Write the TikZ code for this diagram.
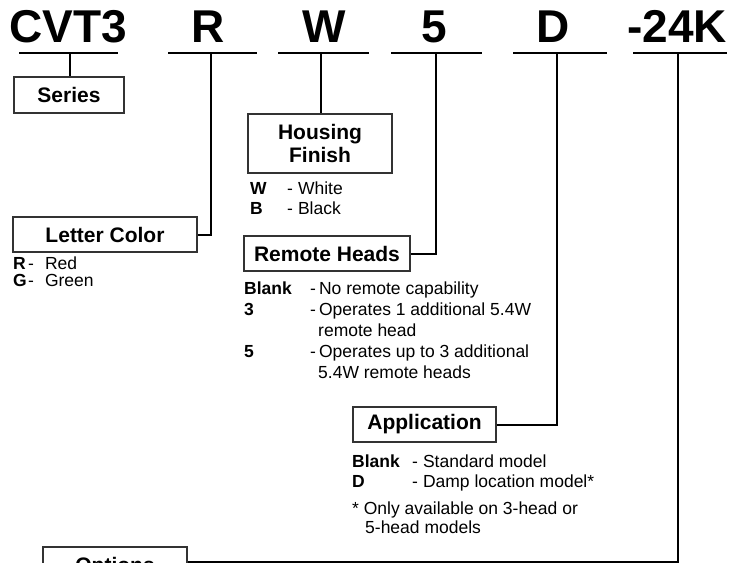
\documentclass[tikz,border=0pt]{standalone}
\usepackage{fontspec}
\setmainfont{Liberation Sans}

\begin{document}
\begin{tikzpicture}[x=1pt, y=-1pt,
  code/.style  = {font=\fontsize{46}{46}\selectfont\bfseries, inner sep=0pt, anchor=base},
  rule/.style  = {line width=2pt},
  link/.style  = {line width=2pt},
  box/.style   = {draw=black!80, line width=1.2pt, inner sep=0pt, align=center,
                  font=\fontsize{21}{23}\selectfont\bfseries},
  item/.style  = {anchor=base west, inner sep=0pt, font=\fontsize{17.5}{21}\selectfont},
]
  \useasboundingbox (0,0) rectangle (743,562);
  \clip (0,0) rectangle (743,562);

  % the model code, one field per block
  \node[code] (cvt) at (68,42)  {CVT3};
  \node[code] (col) at (208,42) {R};
  \node[code] (fin) at (324,42) {W};
  \node[code] (rem) at (434,42) {5};
  \node[code] (app) at (553,42) {D};
  \node[code] (opt) at (677,42) {-24K};

  \foreach \l/\r/\t/\n in {19/118/70/cvt, 168/257/211/col, 278/369/321/fin,
                           391/482/436/rem, 513/607/557/app, 633/727/678/opt} {
    \draw[rule] (\l,53) -- (\r,53);
    \coordinate (\n-tap) at (\t,53);
  }

  \node[box, minimum width=110, minimum height=36] (series) at (69,95)       {Series};
  \node[box, minimum width=184, minimum height=35] (color)  at (105,234.5)   {Letter Color};
  \node[box, minimum width=144, minimum height=59] (finish) at (320,143.5)   {Housing\\Finish};
  \node[box, minimum width=166, minimum height=35] (heads)  at (327,253.5)   {Remote Heads};
  \node[box, minimum width=143, minimum height=35] (appl)   at (424.5,424.5) {Application};
  \node[box, minimum width=144, minimum height=40] (opts)   at (115,567)     {Options};

  \draw[link] (cvt-tap) -- (cvt-tap |- series.north);
  \draw[link] (col-tap) |- (color.east);
  \draw[link] (fin-tap) -- (fin-tap |- finish.north);
  \draw[link] (rem-tap) |- (heads.east);
  \draw[link] (app-tap) |- (appl.east);
  \draw[link] (opt-tap) |- ([yshift=5pt]opts.east);

  % choices under each block
  \node[item] (colr) at (13,269) {\makebox[15pt][l]{\bfseries R}-\hspace{11pt}Red};
  \node[item] (colg) at (13,286) {\makebox[15pt][l]{\bfseries G}-\hspace{11pt}Green};

  \node[item] (finw) at (250,194) {\makebox[37pt][l]{\bfseries W}-\hspace{5pt}White};
  \node[item] (finb) at (250,214) {\makebox[37pt][l]{\bfseries B}-\hspace{5pt}Black};

  \node[item] (remblank) at (244,294) {\makebox[66pt][l]{\bfseries Blank}-\hspace{3pt}No remote capability};
  \node[item] (rem3)     at (244,315) {\makebox[66pt][l]{\bfseries 3}-\hspace{3pt}Operates 1 additional 5.4W};
  \node[item] (rem3b)    at (318,336) {remote head};
  \node[item] (rem5)     at (244,357) {\makebox[66pt][l]{\bfseries 5}-\hspace{3pt}Operates up to 3 additional};
  \node[item] (rem5b)    at (318,378) {5.4W remote heads};

  \node[item] (appblank) at (352,467) {\makebox[60pt][l]{\bfseries Blank}-\hspace{5pt}Standard model};
  \node[item] (appd)     at (352,487) {\makebox[60pt][l]{\bfseries D}-\hspace{5pt}Damp location model*};
  \node[item] (note)     at (352,514) {* Only available on 3-head or};
  \node[item] (noteb)    at (365,533) {5-head models};
\end{tikzpicture}
\end{document}
